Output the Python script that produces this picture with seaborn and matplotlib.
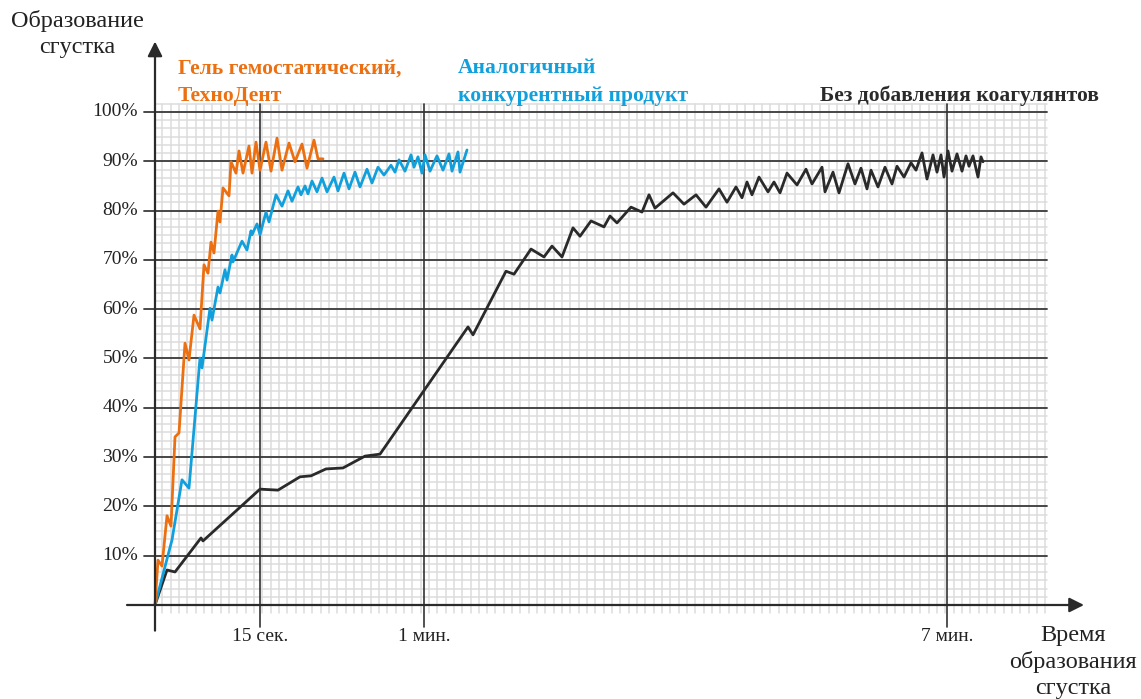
import numpy as np
import pandas as pd
import matplotlib
matplotlib.use("Agg")
import matplotlib.pyplot as plt
import seaborn as sns

# Position along the (non-linear) time axis and clot formation, %
gel_x = [0, 0.3, 0.7, 1.2, 1.6, 2.0, 2.4, 3.0, 3.4, 3.9, 4.5, 4.9, 5.3, 5.6, 5.9, 6.3, 6.5, 6.8,
         7.4, 7.6, 8.1, 8.4, 8.8, 9.4, 9.7, 10.1, 10.5, 11.1, 11.6, 12.2, 12.7, 13.4, 14.0,
         14.7, 15.2, 15.9, 16.3, 16.8]
gel_y = [0, 9.1, 7.9, 18.1, 16.0, 34.1, 34.9, 53.1, 49.7, 58.8, 56.0, 69.0, 67.3, 73.6, 71.4,
         79.9, 77.7, 84.6, 83.0, 89.9, 87.6, 92.1, 87.6, 93.1, 87.6, 93.9, 88.2, 93.9, 88.0,
         94.7, 88.2, 93.7, 89.9, 93.5, 88.6, 94.3, 90.5, 90.5]

analog_x = [0, 1.7, 2.7, 3.4, 4.5, 4.7, 5.5, 5.7, 6.3, 6.5, 7.0, 7.2, 7.7, 7.8, 8.7, 9.2, 9.6,
            9.7, 10.2, 10.5, 11.1, 11.4, 12.1, 12.7, 13.3, 13.7, 14.3, 14.6, 15.0, 15.3, 15.7,
            16.2, 16.7, 17.2, 17.9, 18.3, 18.9, 19.4, 20.0, 20.5, 21.2, 21.7, 22.3, 22.9, 23.6,
            24.0, 24.4, 25.0, 25.6, 25.9, 26.3, 26.7, 27.0, 27.5, 28.2, 28.8, 29.4, 29.7, 30.3,
            30.5, 31.2]
analog_y = [0, 13.2, 25.4, 23.7, 50.1, 48.1, 60.2, 57.8, 64.5, 63.3, 68.0, 65.9, 71.0, 69.6,
            73.8, 72.0, 75.9, 75.1, 77.3, 75.1, 79.7, 77.7, 83.2, 80.9, 84.0, 81.9, 84.8, 83.2,
            85.0, 83.4, 86.0, 83.8, 86.6, 83.8, 86.8, 84.0, 87.6, 84.4, 87.8, 84.8, 88.4, 85.6,
            88.8, 87.2, 89.2, 87.8, 90.3, 88.0, 91.3, 88.8, 90.9, 87.6, 91.3, 88.0, 91.1, 88.2,
            91.5, 88.0, 91.9, 87.8, 92.3]

control_x = [0, 1.2, 2.0, 4.6, 4.8, 10.5, 12.3, 14.5, 15.6, 17.1, 18.8, 21.0, 22.5, 31.3, 31.8,
             35.1, 35.9, 37.6, 38.9, 39.7, 40.7, 41.8, 42.5, 43.6, 44.9, 45.5, 46.2, 47.6, 48.7,
             49.4, 50.0, 51.8, 52.9, 54.1, 55.1, 56.4, 57.2, 58.1, 58.7, 59.2, 59.7, 60.4, 61.3,
             61.9, 62.5, 63.2, 64.2, 65.1, 65.7, 66.7, 67.0, 67.8, 68.4, 69.3, 70.0, 70.6, 71.2,
             71.6, 72.3, 73.0, 73.7, 74.2, 74.9, 75.6, 76.1, 76.7, 77.2, 77.8, 78.2, 78.6, 78.9,
             79.3, 79.7, 80.2, 80.7, 81.1, 81.4, 81.8, 82.3, 82.6, 82.8]
control_y = [0, 7.1, 6.7, 13.6, 13.0, 23.5, 23.3, 26.0, 26.2, 27.6, 27.8, 30.2, 30.6, 56.4, 54.8,
             67.7, 67.1, 72.2, 70.6, 72.8, 70.6, 76.5, 74.8, 77.9, 76.7, 78.9, 77.5, 80.7, 79.7,
             83.2, 80.5, 83.6, 81.3, 83.2, 80.7, 84.4, 81.7, 84.8, 82.6, 85.8, 83.2, 86.8, 83.8,
             85.8, 83.6, 87.6, 85.2, 88.4, 85.4, 88.8, 83.8, 87.8, 83.6, 89.5, 85.4, 88.6, 84.4,
             88.2, 84.8, 88.8, 85.4, 89.0, 86.8, 89.7, 88.2, 91.7, 86.4, 91.3, 87.8, 91.3, 86.8,
             92.1, 88.0, 91.5, 88.0, 91.1, 89.0, 91.1, 86.8, 90.9, 89.9]

time_ticks = [10.5, 26.9, 79.2]
time_labels = ["15 сек.", "1 мин.", "7 мин."]
pct_ticks = [10, 20, 30, 40, 50, 60, 70, 80, 90, 100]

ORANGE = "#EC7011"
BLUE = "#12A0DC"
DARK = "#2A2A2A"

sns.set_style("white")
plt.rcParams["font.family"] = ["Liberation Serif", "DejaVu Serif"]

fig = plt.figure(figsize=(11.41, 6.99), dpi=100)
ax = fig.add_axes([0.10955, 0.09216, 0.84137, 0.86046])
ax.set_xlim(-3, 93)
ax.set_ylim(-6, 116)

# graph-paper grid
grid_top = 100 + 10 / 6
grid_right = 89.2
for gx in np.arange(0.73, grid_right + 0.01, 0.833):
    ax.plot([gx, gx], [-10 / 6, grid_top], color="#DCDCDC", lw=1.1, zorder=1)
for gy in np.arange(10 / 6, grid_top + 0.01, 10 / 6):
    ax.plot([0, grid_right], [gy, gy], color="#DCDCDC", lw=1.1, zorder=1)
for gy in pct_ticks:
    ax.plot([-1.1, grid_right], [gy, gy], color="#3A3A3A", lw=1.3, zorder=2)
    ax.text(-1.7, gy, f"{gy}%", ha="right", va="center", fontsize=14, color="#222222")
for tx, tl in zip(time_ticks, time_labels):
    ax.plot([tx, tx], [-4.4, grid_top], color="#333333", lw=1.2, zorder=2)
    ax.text(tx, -6.3, tl, ha="center", va="center", fontsize=14, color="#222222")

# axes with arrows
ax.annotate("", xy=(92.9, 0), xytext=(-2.8, 0),
            arrowprops=dict(arrowstyle="-|>", color=DARK, lw=1.6, mutation_scale=22,
                            shrinkA=0, shrinkB=0), zorder=5)
ax.annotate("", xy=(0, 114.3), xytext=(0, -5.2),
            arrowprops=dict(arrowstyle="-|>", color=DARK, lw=1.6, mutation_scale=22,
                            shrinkA=0, shrinkB=0), zorder=5)

gel = pd.DataFrame({"x": gel_x, "y": gel_y})
analog = pd.DataFrame({"x": analog_x, "y": analog_y})
control = pd.DataFrame({"x": control_x, "y": control_y})
sns.lineplot(data=control, x="x", y="y", color=DARK, lw=2.0, sort=False, estimator=None, ax=ax, zorder=4)
sns.lineplot(data=analog, x="x", y="y", color=BLUE, lw=2.0, sort=False, estimator=None, ax=ax, zorder=4)
sns.lineplot(data=gel, x="x", y="y", color=ORANGE, lw=2.0, sort=False, estimator=None, ax=ax, zorder=4)
ax.axis("off")

# titles / labels
fig.text(77 / 1141, 1 - 34 / 699, "Образование\nсгустка", ha="center", va="center",
         fontsize=17.5, color="#222222", linespacing=1.35)
fig.text(1073 / 1141, 1 - 662 / 699, "Время\nобразования\nсгустка", ha="center", va="center",
         fontsize=17.5, color="#222222", linespacing=1.3)
fig.text(178 / 1141, 1 - 82 / 699, "Гель гемостатический,\nТехноДент", ha="left", va="center",
         fontsize=15.5, fontweight="bold", color=ORANGE, linespacing=1.5)
fig.text(458 / 1141, 1 - 82 / 699, "Аналогичный\nконкурентный продукт", ha="left", va="center",
         fontsize=15.5, fontweight="bold", color=BLUE, linespacing=1.5)
fig.text(820 / 1141, 1 - 96 / 699, "Без добавления коагулянтов", ha="left", va="center",
         fontsize=15.5, fontweight="bold", color=DARK)

fig.savefig("out.png", dpi=100)
